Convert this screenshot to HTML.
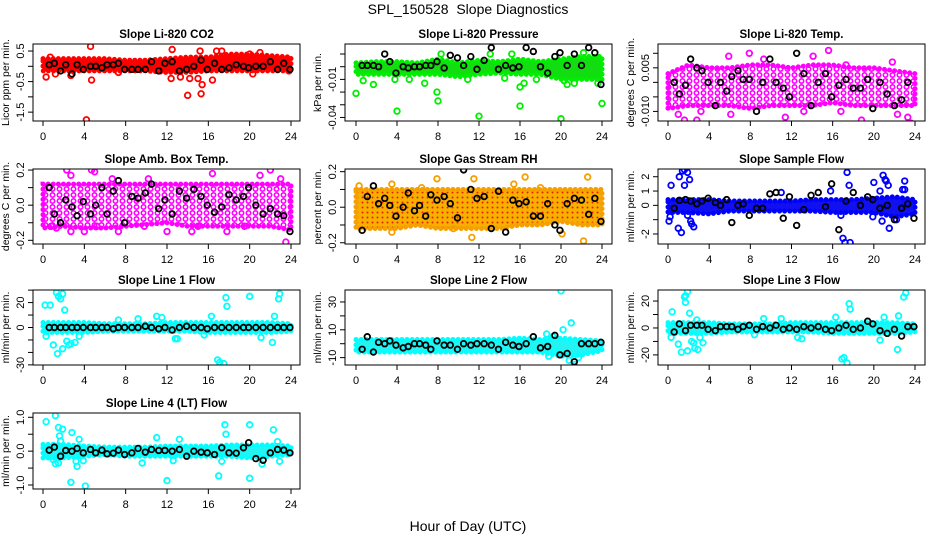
<!DOCTYPE html>
<html><head><meta charset="utf-8">
<style>
html,body{margin:0;padding:0;background:#fff;}
svg{display:block;font-family:"Liberation Sans",sans-serif;}
</style></head>
<body>
<svg id="chart" width="936" height="540" viewBox="0 0 936 540" xmlns="http://www.w3.org/2000/svg">
<defs>
<pattern id="pat-mag" width="7" height="6" patternUnits="userSpaceOnUse">
<rect width="7" height="6" fill="#fff"/>
<circle cx="3.5" cy="3" r="2.2" fill="none" stroke="#ff00ff" stroke-width="1.6"/>
</pattern>
<pattern id="pat-rh" width="5" height="5" patternUnits="userSpaceOnUse">
<rect width="5" height="5" fill="#f8b000"/>
<circle cx="2.5" cy="2.5" r="1" fill="#e82000"/>
</pattern>
</defs>
<text x="468" y="14" text-anchor="middle" font-size="14" xml:space="preserve">SPL_150528  Slope Diagnostics</text>
<text x="468" y="531" text-anchor="middle" font-size="14">Hour of Day (UTC)</text>
</svg>
<script>
const xTicks = [0,4,8,12,16,20,24];
const bandHours = [0,2,4,6,8,10,12,14,16,18,20,22,24];
const blkHours = [0.6,1.1,1.7,2.2,2.8,3.3,3.9,4.6,5.1,5.7,6.2,6.8,7.3,7.9,8.6,9.2,9.9,10.5,11.2,11.8,12.5,13.2,13.9,14.6,15.3,15.9,16.6,17.3,18.0,18.7,19.4,19.9,20.6,21.3,22.0,22.7,23.3,23.9];

const p1Lo=[-0.15,-0.15,-0.15,-0.15,-0.15,-0.15,-0.2,-0.2,-0.15,-0.15,-0.15,-0.15,-0.15];
const p1Hi=[0.25,0.25,0.25,0.25,0.2,0.2,0.25,0.3,0.3,0.4,0.4,0.35,0.3];
const p1Out=[[4.2,-1.75],[4.6,0.65],[4.7,-0.45],[0.7,0.3],[0.3,-0.35],[12.5,0.55],[14,-0.95],[15.3,-0.9],[15.4,-0.6],[16.4,-0.45],[14.2,-0.4],[12.4,-0.4],[15,-0.4],[20,0.4],[21,0.45],[16.8,0.5],[17.3,0.5],[15.2,0.5],[2.7,-0.3],[1.2,-0.25],[7.3,-0.2],[20.3,-0.25],[13.3,-0.35],[23.8,-0.15]];
const p1Blk=[0.05,0.1,-0.15,0.05,-0.25,0.05,-0.1,0.0,0.0,-0.05,0.05,0.05,0.1,-0.1,-0.1,-0.1,-0.1,0.15,-0.15,0.1,0.15,-0.15,-0.1,0.0,0.2,-0.1,0.1,-0.1,-0.05,0.05,0.0,-0.05,0.0,0.0,0.15,-0.1,0.1,-0.1];
const p1YTicks=[0.5,0,-0.5,-1,-1.5];
const p1YLabels=["0.5","","-0.5","","-1.5"];

const p2Lo=[-0.006,-0.006,-0.006,-0.006,-0.006,-0.008,-0.006,-0.005,-0.006,-0.006,-0.01,-0.01,-0.01];
const p2Hi=[0.003,0.004,0.004,0.003,0.006,0.003,0.005,0.004,0.006,0.004,0.006,0.008,0.008];
const p2Out=[[0,-0.021],[4,-0.035],[8,-0.027],[12,-0.039],[16,-0.031],[20,-0.041],[24,-0.029],[1.7,-0.014],[0.7,-0.011],[3.8,-0.010],[5.2,-0.010],[6.7,-0.013],[7.9,-0.020],[10.9,-0.010],[14.5,-0.009],[16,-0.016],[16.4,-0.013],[17.6,-0.010],[20.6,-0.014],[21.3,-0.013],[23.6,-0.013],[8.3,0.010],[13.1,0.010],[15.2,0.010],[22.2,0.011],[20.3,-0.011]];
const p2Blk=[0.001,0.001,0.001,0.0,0.010,0.004,-0.005,0.0,-0.001,0.0,0.0,0.001,0.001,0.004,-0.001,0.009,0.007,0.001,0.008,-0.002,0.005,0.015,-0.002,0.001,-0.001,0.0,0.015,0.012,0.0,-0.005,0.008,0.011,0.001,0.010,0.001,0.015,0.011,-0.014];
const p2YTicks=[0.01,0,-0.01,-0.02,-0.03,-0.04];
const p2YLabels=["","","-0.01","","","-0.04"];

const p3Lo=[-0.009,-0.008,-0.008,-0.008,-0.009,-0.008,-0.008,-0.008,-0.007,-0.008,-0.008,-0.008,-0.008];
const p3Hi=[0.003,0.006,0.005,0.005,0.006,0.006,0.005,0.006,0.006,0.005,0.005,0.004,0.003];
const p3Out=[[1.0,-0.011],[1.6,-0.013],[2.8,-0.013],[5.9,0.009],[7.9,0.010],[9.3,0.008],[14.1,0.009],[15.6,0.011],[17.3,0.006],[18.8,-0.013],[21.8,0.007],[22.3,-0.011],[23.3,-0.012],[23.6,-0.014],[6.1,-0.011],[11.4,-0.012],[3.2,-0.010],[16.8,-0.010],[13.2,-0.010]];
const p3Blk=[0.0,-0.004,-0.001,0.008,0.005,0.004,0.000,-0.008,0.000,-0.003,0.002,0.004,0.001,0.001,-0.010,0.000,0.008,0.0,-0.002,-0.005,0.010,0.003,-0.008,0.000,0.003,-0.005,-0.001,0.001,-0.002,-0.002,0.001,-0.009,0.000,-0.004,-0.008,-0.006,0.000,-0.015];
const p3YTicks=[0.01,0.005,0,-0.005,-0.01];
const p3YLabels=["","0.005","","","-0.010"];

const p4Lo=[-0.13,-0.12,-0.13,-0.13,-0.12,-0.11,-0.10,-0.12,-0.12,-0.12,-0.12,-0.12,-0.14];
const p4Hi=[0.12,0.12,0.12,0.12,0.12,0.12,0.12,0.12,0.12,0.12,0.12,0.12,0.12];
const p4Out=[[2.3,0.2],[2.7,0.17],[4.7,0.2],[5,0.19],[6.7,0.15],[7.3,-0.15],[10.2,0.15],[12,-0.15],[14.4,-0.15],[16.4,0.18],[17.8,-0.15],[21,0.17],[22,0.2],[23.5,-0.21],[23,0.15],[0.8,-0.12],[1.3,-0.13],[2.7,-0.15],[4,-0.15],[5.2,-0.12],[9.8,-0.12],[15,-0.12],[19.5,-0.12]];
const p4Blk=[0.1,-0.05,-0.1,0.03,-0.01,-0.06,0.02,-0.05,0.0,0.1,-0.05,0.08,0.14,-0.1,0.05,0.04,0.07,0.12,-0.02,0.03,-0.05,0.08,0.04,0.09,0.05,0.0,-0.04,-0.01,0.06,0.03,0.05,0.1,0.0,-0.05,-0.02,-0.05,-0.06,-0.15];
const p4YTicks=[0.2,0.1,0,-0.1,-0.2];
const p4YLabels=["0.2","","0.0","","-0.2"];

const p5Lo=[-0.12,-0.12,-0.12,-0.10,-0.12,-0.12,-0.12,-0.12,-0.10,-0.10,-0.08,-0.10,-0.10];
const p5Hi=[0.1,0.1,0.1,0.1,0.1,0.1,0.1,0.1,0.1,0.1,0.1,0.1,0.1];
const p5Out=[[3.5,-0.14],[7.9,0.16],[9.5,-0.12],[11.3,-0.17],[11.5,0.16],[16.5,0.17],[20.1,-0.15],[22.2,-0.19],[22.6,0.17],[0.3,0.12],[3.5,0.13],[6.4,0.11],[18,0.11],[15.4,0.13]];
const p5Blk=[-0.13,0.06,0.12,0.02,0.05,0.01,-0.05,0.0,0.08,-0.02,0.01,-0.05,0.07,0.04,0.06,0.02,-0.06,0.21,0.1,0.05,0.06,-0.12,0.09,-0.14,0.04,0.02,0.03,-0.05,-0.05,0.02,-0.1,-0.13,0.02,0.05,0.04,-0.04,0.05,-0.08];
const p5YTicks=[0.2,0.1,0,-0.1,-0.2];
const p5YLabels=["0.2","","0.0","","-0.2"];

const p6Lo=[-0.5,-0.5,-0.6,-0.4,-0.4,-0.4,-0.4,-0.4,-0.5,-0.5,-0.5,-0.8,-0.6];
const p6Hi=[0.4,0.4,0.4,0.3,0.3,0.3,0.3,0.4,0.4,0.4,0.5,0.6,0.4];
const p6Out=[[0.2,-0.8],[0.1,-1.1],[0.3,1.4],[1.1,2.0],[1.4,2.4],[1.6,2.5],[1.9,2.3],[2.1,1.8],[1.6,1.4],[1.0,-1.6],[1.3,-1.9],[2.2,-1.1],[2.5,-1.5],[1.9,-0.7],[2.3,-1.3],[17.4,2.3],[17,-2.3],[17.2,-2.6],[17.7,-2.6],[17.6,1.4],[20,1.6],[20.9,2.1],[21.1,1.8],[21.2,1.7],[21.4,1.4],[20.6,1.0],[21.5,-1.6],[23,1.7],[22.8,1.1],[23,1.1],[20.8,-1.1],[22.2,-1.0],[19.9,-0.8],[16.8,-0.7],[11,0.9],[15.8,1.0]];
const p6Blk=[-0.2,0.35,0.4,0.3,0.1,0.3,0.5,0.2,0.0,0.4,-1.2,0.0,0.1,-0.7,-0.2,-0.2,0.8,0.9,-0.9,0.6,-1.4,-0.3,0.7,0.9,-0.1,1.5,-1.7,0.3,0.9,0.0,0.6,0.4,-0.2,0.0,-1.0,-0.2,0.1,-0.9];
const p6YTicks=[2,1,0,-1,-2];
const p6YLabels=["2","1","0","","-2"];

const p7Lo=[-4,-4,-4,-3,-3,-3,-3,-3,-4,-4,-4,-4,-3];
const p7Hi=[4,4,4,3,3,3,4,4,4,4,4,4,3];
const p7Out=[[0.2,18],[0.3,-7],[0.7,18],[1.3,28],[1.5,25],[1.7,23],[1.9,27],[2.1,14],[1.0,-14],[1.4,-21],[1.9,-17],[2.3,-11],[2.5,-14],[2.7,-13],[3.1,-12],[3.5,-7],[9.2,7],[11,9],[11.5,8],[12.8,-9],[13,-9],[16.3,9],[16.9,-26],[17.1,-28],[17.5,-29],[17.7,24],[17.8,17],[20,25],[22.2,-12],[22.4,9],[22.8,23],[22.9,27],[21.1,-8],[7.3,6],[15.6,-6]];
const p7Blk=[0,0,0,0,0,0,0,0,0,0,0,-1,0,0,0,0,1,0,-1,0,-2,0,1,0,0,-1,0,0,0,0,0,0,0,0,0,0,0,0];
const p7YTicks=[30,20,10,0,-10,-20,-30];
const p7YLabels=["","20","","0","","","-30"];

const p8Lo=[-6,-6,-6,-6,-6,-6,-6,-6,-6,-6,-9,-8,-5];
const p8Hi=[3,3,3,3,3,3,3,3,4,3,4,3,2];
const p8Out=[[20,38],[20.2,10],[21,15],[18.8,-9],[21.3,-15],[21.7,-10],[20.8,-12],[19.4,-5],[18.6,7],[19.2,5]];
const p8Blk=[-4,5,-6,1,0,2,-1,-3,-2,0,0,-1,-4,2,-1,-1,-4,0,-1,0,0,-1,-4,1,-1,-2,0,5,-3,-2,6,-8,-7,-13,0,0,0,1];
const p8YTicks=[30,20,10,0,-10];
const p8YLabels=["30","","10","","-10"];

const p9Lo=[-4,-4,-4,-3,-3,-3,-3,-3,-4,-4,-4,-4,-3];
const p9Hi=[4,4,4,3,3,3,4,4,4,4,4,4,3];
const p9Out=[[0.4,12],[0.3,-7],[1.0,-12],[1.3,-18],[1.6,23],[1.7,24],[1.9,27],[1.7,19],[1.9,-17],[2.1,11],[2.3,-10],[2.5,-11],[2.6,-15],[2.9,-16],[3.1,-7],[3.4,-11],[2.8,6],[16.3,8],[16.9,-23],[17.1,-22],[17.4,-26],[17.6,18],[17.7,14],[20.6,-9],[21,8],[22.3,-16],[22.4,9],[22.9,23],[23.1,26],[12.6,-7],[13,-8],[9.3,7],[11,7],[8.4,-5]];
const p9Blk=[-3,3,-2,2,2,2,-1,-2,1,1,1,-1,1,2,-1,1,0,2,-1,0,-1,1,0,1,-1,-2,0,2,-1,0,5,3,-2,-4,-1,-6,1,1];
const p9YTicks=[20,10,0,-10,-20];
const p9YLabels=["20","","0","","-20"];

const p10Lo=[-0.2,-0.2,-0.15,-0.1,-0.15,-0.15,-0.15,-0.15,-0.15,-0.15,-0.2,-0.15,-0.1];
const p10Hi=[0.2,0.2,0.15,0.12,0.12,0.12,0.15,0.15,0.15,0.18,0.18,0.18,0.15];
const p10Out=[[0.3,0.87],[1.2,1.05],[1.5,0.7],[1.9,0.65],[1.7,0.3],[1.6,0.45],[1.0,-0.25],[1.2,-0.37],[1.5,-0.35],[2.8,0.55],[3.2,-0.3],[3.3,-0.45],[3.5,0.35],[2.7,-0.92],[4.1,-1.03],[3.9,-0.28],[9.6,-0.35],[11,0.4],[12,-0.87],[12.6,-0.28],[13.2,0.35],[17,-0.73],[17.6,0.78],[17.7,0.5],[17.3,-0.3],[20,0.78],[20,-0.8],[21.2,-0.38],[22.3,0.63],[22.7,0.28],[22.9,-0.3]];
const p10Blk=[0.03,0.12,-0.15,0.02,0.0,0.08,-0.05,0.05,-0.05,0.03,-0.08,-0.06,0.03,-0.1,-0.05,0.08,-0.03,0.05,0.02,0.02,0.0,0.05,-0.15,0.0,-0.03,-0.05,-0.1,0.1,-0.05,-0.06,0.1,0.25,-0.22,-0.27,-0.05,0.05,0.03,-0.05];
const p10YTicks=[1,0.5,0,-0.5,-1];
const p10YLabels=["1.0","","0.0","","-1.0"];

const NS="http://www.w3.org/2000/svg";
const svg=document.getElementById('chart');
const cols=[{l:33,r:300,x0:43,x24:291},{l:345,r:612,x0:356,x24:602},{l:658,r:925,x0:668,x24:915}];
const rows=[{t:44,b:121},{t:169,b:244},{t:290,b:365},{t:413,b:489}];
const panels=[
 {c:0,r:0,title:"Slope Li-820 CO2",ylab:"Licor ppm per min.",lo:p1Lo,hi:p1Hi,out:p1Out,blk:p1Blk,yt:p1YTicks,yl:p1YLabels,top:0.73,bot:-1.79,col:"#ff0000",fill:"#ff0000",key:"co2"},
 {c:1,r:0,title:"Slope Li-820 Pressure",ylab:"kPa per min.",lo:p2Lo,hi:p2Hi,out:p2Out,blk:p2Blk,yt:p2YTicks,yl:p2YLabels,top:0.0179,bot:-0.0428,col:"#00ee00",fill:"#11dd11",key:"pressure"},
 {c:2,r:0,title:"Slope Li-820 Temp.",ylab:"degrees C per min.",lo:p3Lo,hi:p3Hi,out:p3Out,blk:p3Blk,yt:p3YTicks,yl:p3YLabels,top:0.0132,bot:-0.0133,col:"#ff00ff",fill:"url(#pat-mag)",key:"licor-temp"},
 {c:0,r:1,title:"Slope Amb. Box Temp.",ylab:"degrees C per min.",lo:p4Lo,hi:p4Hi,out:p4Out,blk:p4Blk,yt:p4YTicks,yl:p4YLabels,top:0.206,bot:-0.221,col:"#ff00ff",fill:"url(#pat-mag)",key:"amb-box-temp"},
 {c:1,r:1,title:"Slope Gas Stream RH",ylab:"percent per min.",lo:p5Lo,hi:p5Hi,out:p5Out,blk:p5Blk,yt:p5YTicks,yl:p5YLabels,top:0.215,bot:-0.207,col:"#f5a000",fill:"url(#pat-rh)",key:"gas-rh"},
 {c:2,r:1,title:"Slope Sample Flow",ylab:"ml/min per min.",lo:p6Lo,hi:p6Hi,out:p6Out,blk:p6Blk,yt:p6YTicks,yl:p6YLabels,top:2.54,bot:-2.7,col:"#0000ff",fill:"#1010f0",key:"sample-flow"},
 {c:0,r:2,title:"Slope Line 1 Flow",ylab:"ml/min per min.",lo:p7Lo,hi:p7Hi,out:p7Out,blk:p7Blk,yt:p7YTicks,yl:p7YLabels,top:30.1,bot:-30.1,col:"#00ffff",fill:"#22f4f4",key:"line1-flow"},
 {c:1,r:2,title:"Slope Line 2 Flow",ylab:"ml/min per min.",lo:p8Lo,hi:p8Hi,out:p8Out,blk:p8Blk,yt:p8YTicks,yl:p8YLabels,top:38.6,bot:-15.3,col:"#00ffff",fill:"#22f4f4",key:"line2-flow"},
 {c:2,r:2,title:"Slope Line 3 Flow",ylab:"ml/min per min.",lo:p9Lo,hi:p9Hi,out:p9Out,blk:p9Blk,yt:p9YTicks,yl:p9YLabels,top:28.2,bot:-27.5,col:"#00ffff",fill:"#22f4f4",key:"line3-flow"},
 {c:0,r:3,title:"Slope Line 4 (LT) Flow",ylab:"ml/min per min.",lo:p10Lo,hi:p10Hi,out:p10Out,blk:p10Blk,yt:p10YTicks,yl:p10YLabels,top:1.127,bot:-1.118,col:"#00ffff",fill:"#22f4f4",key:"line4-flow"}
];
function mk(tag,attrs,parent){const e=document.createElementNS(NS,tag);for(const k in attrs)e.setAttribute(k,attrs[k]);(parent||svg).appendChild(e);return e;}
panels.forEach(p=>{
 const C=cols[p.c],R=rows[p.r];
 const g=mk('g',{});
 
 
 const X=h=>C.x0+(C.x24-C.x0)*h/24;
 const Y=v=>R.t+(p.top-v)/(p.top-p.bot)*(R.b-R.t);
 const clip='clip-'+p.key;
 const cp=mk('clipPath',{id:clip},g);mk('rect',{x:C.l,y:R.t,width:C.r-C.l,height:R.b-R.t},cp);
 const data=mk('g',{'clip-path':'url(#'+clip+')'},g);
 let pts=[];
 bandHours.forEach((h,i)=>pts.push(X(h)+','+Y(p.hi[i])));
 for(let i=bandHours.length-1;i>=0;i--)pts.push(X(bandHours[i])+','+Y(p.lo[i]));
 const band=mk('polygon',{points:pts.join(' '),fill:p.fill,stroke:'none'},data);
 
 
 const edge=mk('polygon',{points:pts.join(' '),fill:'none',stroke:p.col,'stroke-width':5,'stroke-dasharray':'0.1 5','stroke-linecap':'round'},data);
 
 
 p.out.forEach(o=>{
  const c=mk('circle',{cx:X(o[0]),cy:Y(o[1]),r:2.8,fill:'none',stroke:p.col,'stroke-width':1.8},data);
  
  
 });
 const n=Math.min(blkHours.length,p.blk.length);
 for(let i=0;i<n;i++){
  const c=mk('circle',{cx:X(blkHours[i]),cy:Y(p.blk[i]),r:2.8,fill:'none',stroke:'#000','stroke-width':1.8},data);
  
  
 }
 mk('rect',{x:C.l,y:R.t,width:C.r-C.l,height:R.b-R.t,fill:'none',stroke:'#000','stroke-width':1},g);
 const t=mk('text',{x:(C.l+C.r)/2,y:R.t-6,'text-anchor':'middle','font-size':11.5,'font-weight':'bold'},g);
 t.textContent=p.title;
 
 
 xTicks.forEach(h=>{
  mk('line',{x1:X(h),x2:X(h),y1:R.b,y2:R.b+5,stroke:'#000'},g);
  const l=mk('text',{x:X(h),y:R.b+19,'text-anchor':'middle','font-size':11},g);
  l.textContent=h;
  
  
 });
 p.yt.forEach((v,i)=>{
  const y=Y(v);
  mk('line',{x1:C.l-5,x2:C.l,y1:y,y2:y,stroke:'#000'},g);
  if(p.yl[i]){
   const l=mk('text',{x:C.l-9,y:y,'text-anchor':'middle','font-size':11,transform:'rotate(-90 '+(C.l-9)+' '+y+')'},g);
   l.textContent=p.yl[i];
   
   
  }
 });
 const ym=(R.t+R.b)/2,yx=C.l-24;
 const yl=mk('text',{x:yx,y:ym,'text-anchor':'middle','font-size':10.5,transform:'rotate(-90 '+yx+' '+ym+')'},g);
 yl.textContent=p.ylab;
 
 
});
</script>
</body></html>
